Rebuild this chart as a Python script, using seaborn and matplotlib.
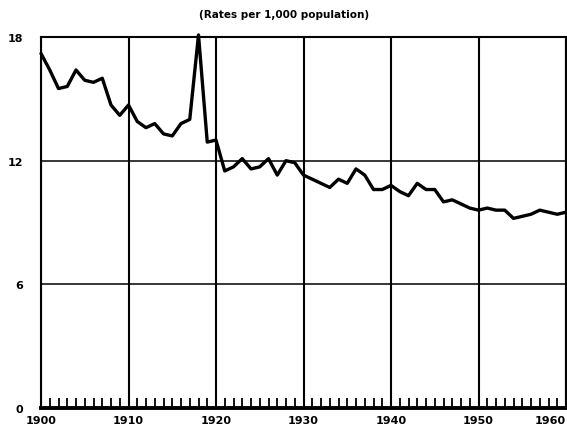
import numpy as np
import pandas as pd
import seaborn as sns
import matplotlib.pyplot as plt
from matplotlib.ticker import MultipleLocator

years = list(range(1900, 1961))
rates = [17.2, 16.4, 15.5, 15.6, 16.4, 15.9, 15.8, 16.0, 14.7, 14.2,
         14.7, 13.9, 13.6, 13.8, 13.3, 13.2, 13.8, 14.0, 18.1, 12.9,
         13.0, 11.5, 11.7, 12.1, 11.6, 11.7, 12.1, 11.3, 12.0, 11.9,
         11.3, 11.1, 10.9, 10.7, 11.1, 10.9, 11.6, 11.3, 10.6, 10.6,
         10.8, 10.5, 10.3, 10.9, 10.6, 10.6, 10.0, 10.1, 9.9, 9.7,
         9.6, 9.7, 9.6, 9.6, 9.2, 9.3, 9.4, 9.6, 9.5, 9.4, 9.5]
yticks = [0, 6, 12, 18]
xticks = [1900, 1910, 1920, 1930, 1940, 1950, 1960]

df = pd.DataFrame({"year": years, "rate": rates})

sns.set_style("white")
plt.rcParams['font.family'] = ['DejaVu Sans']

fig = plt.figure(figsize=(5.67, 4.31), dpi=100)
ax = fig.add_axes([41 / 567, 1 - 409 / 431, 525 / 567, 371 / 431])

sns.lineplot(data=df, x="year", y="rate", ax=ax, color="black", lw=2.4,
             clip_on=False, zorder=5)

ax.set_xlim(1900, 1960)
ax.set_ylim(0, 18)
ax.set_xticks(xticks)
ax.set_yticks(yticks)
ax.xaxis.set_minor_locator(MultipleLocator(1))
ax.set_xticklabels([str(x) for x in xticks], fontsize=8, fontweight="bold",
                   color="black")
ax.set_yticklabels([str(y) for y in yticks], fontsize=8, fontweight="bold",
                   color="black")
ax.get_xticklabels()[-1].set_horizontalalignment("right")
ax.get_xticklabels()[-1].set_x(1960.1)
ax.tick_params(axis="both", which="major", length=0)
ax.tick_params(axis="x", which="major", pad=5)
ax.tick_params(axis="y", which="major", pad=13)
ax.tick_params(axis="x", which="minor", direction="in", length=7, width=1.3,
               color="black", bottom=True)

ax.grid(True, which="major", axis="x", color="black", lw=1.5)
ax.grid(True, which="major", axis="y", color="black", lw=1.1)
for s in ["left", "right", "top"]:
    ax.spines[s].set_color("black")
    ax.spines[s].set_linewidth(1.5)
ax.spines["bottom"].set_color("black")
ax.spines["bottom"].set_linewidth(2.8)
ax.set_xlabel("")
ax.set_ylabel("")

fig.text(284 / 567, 1 - 15 / 431, "(Rates per 1,000 population)", fontsize=7.5,
         fontweight="bold", ha="center", va="center", color="black")

fig.savefig("out.png", dpi=100)
